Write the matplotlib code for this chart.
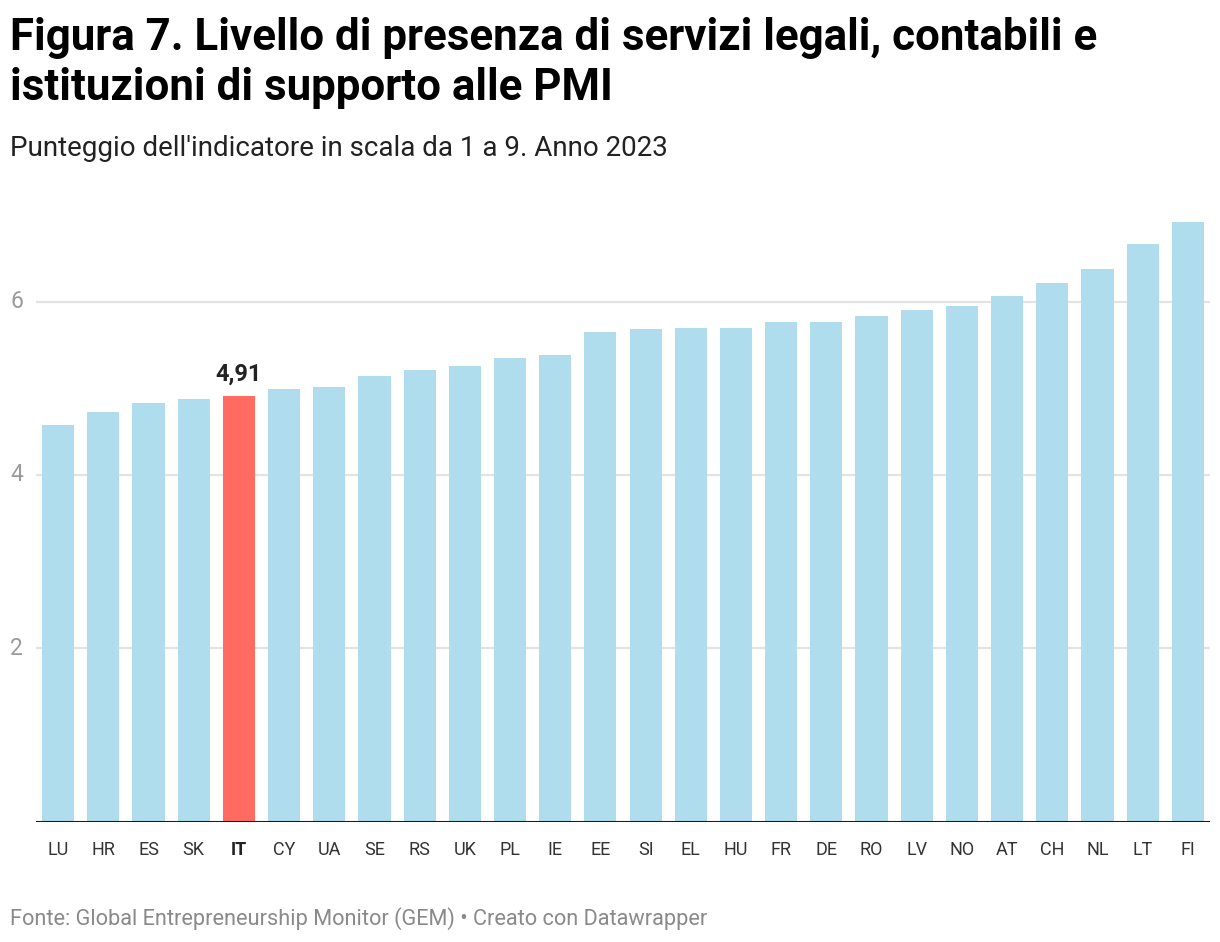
import matplotlib
matplotlib.use("Agg")
import matplotlib.pyplot as plt

plt.rcParams['font.family'] = ['Roboto', 'DejaVu Sans']

countries = ["LU", "HR", "ES", "SK", "IT", "CY", "UA", "SE", "RS", "UK", "PL", "IE", "EE",
             "SI", "EL", "HU", "FR", "DE", "RO", "LV", "NO", "AT", "CH", "NL", "LT", "FI"]
scores = [4.58, 4.73, 4.83, 4.88, 4.91, 4.99, 5.01, 5.14, 5.21, 5.26, 5.35, 5.38, 5.65,
          5.68, 5.70, 5.70, 5.76, 5.77, 5.83, 5.90, 5.95, 6.06, 6.21, 6.38, 6.67, 6.92]
highlight = "IT"
yticks = [2, 4, 6]

W, H = 1220, 942
fig = plt.figure(figsize=(W / 100, H / 100), dpi=100)
ax_w = 1210 - 36
ax = fig.add_axes([36 / W, 1 - 821.5 / H, ax_w / W, (821.5 - 215) / H])

colors = ["#ff6b61" if c == highlight else "#afdded" for c in countries]
x = range(len(countries))
ax.bar(x, scores, width=0.71, color=colors, zorder=2)

ax.set_xlim(-0.49, len(countries) - 0.51)
ax.set_ylim(0, 7)
ax.grid(axis='y', color='#e3e3e3', linewidth=1.6, zorder=0)
ax.axhline(0, color='#1a1a1a', linewidth=2.2, zorder=3)
for s in ax.spines.values():
    s.set_visible(False)

# y labels drawn by hand, left-aligned at the figure edge
ax.set_yticks(yticks)
ax.set_yticklabels([])
ax.tick_params(axis='y', length=0)
for t in yticks:
    ax.text(-26 / ax_w, t, str(t), transform=ax.get_yaxis_transform(),
            ha='left', va='center', fontsize=16.5, color='#9a9a9a')

ax.tick_params(axis='x', length=0, pad=14, labelsize=13, labelcolor='#333333')
ax.set_xticks(list(x))
ax.set_xticklabels(countries)
for lbl in ax.get_xticklabels():
    if lbl.get_text() == highlight:
        lbl.set_fontweight('bold')
        lbl.set_color('#222222')

i = countries.index(highlight)
ax.text(i, scores[i] + 0.12, f"{scores[i]:.2f}".replace(".", ","), ha='center', va='bottom',
        fontsize=17, fontweight='bold', color='#222222')

fig.text(10 / W, 1 - 50 / H, "Figura 7. Livello di presenza di servizi legali, contabili e",
         fontsize=31.6, fontweight='bold', color='#000000', va='baseline')
fig.text(10 / W, 1 - 100 / H, "istituzioni di supporto alle PMI",
         fontsize=31.6, fontweight='bold', color='#000000', va='baseline')
fig.text(10 / W, 1 - 156 / H, "Punteggio dell'indicatore in scala da 1 a 9. Anno 2023",
         fontsize=20, color='#222222', va='baseline')
fig.text(10 / W, 1 - 925 / H, "Fonte: Global Entrepreneurship Monitor (GEM) • Creato con Datawrapper",
         fontsize=15.7, color='#8a8a8a', va='baseline')

fig.savefig("out.png", dpi=100)
